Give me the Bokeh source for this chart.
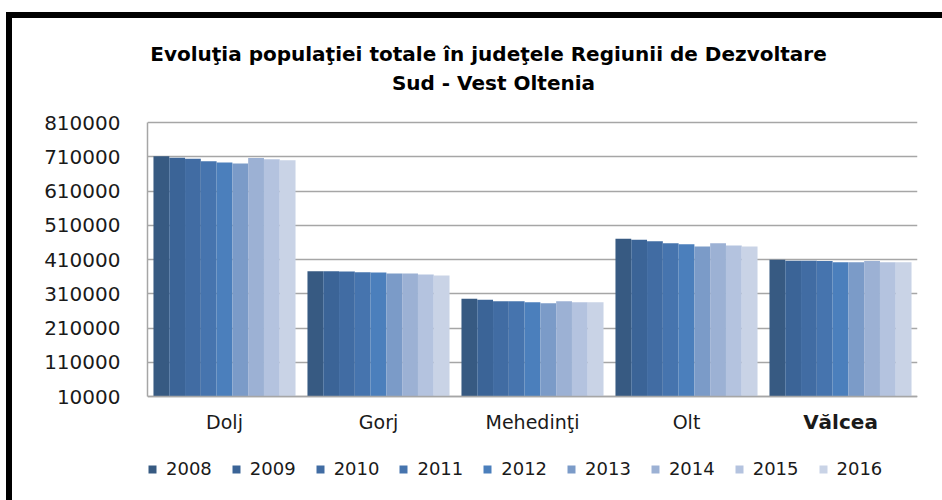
from bokeh.plotting import figure
from bokeh.models import (FactorRange, Range1d, FixedTicker, NumeralTickFormatter,
                          Legend, LegendItem, ColumnDataSource, Label, Span)
from bokeh.core.properties import value
from bokeh.transform import dodge
from bokeh.embed import file_html
from bokeh.resources import INLINE

# ---- data ----
counties = ["Dolj", "Gorj", "Mehedinţi", "Olt", "Vălcea"]
years = ["2008", "2009", "2010", "2011", "2012", "2013", "2014", "2015", "2016"]

pop_2008 = [711700, 375900, 295300, 470500, 409100]
pop_2009 = [707000, 375900, 292400, 467500, 406200]
pop_2010 = [704000, 375000, 288300, 463500, 406200]
pop_2011 = [697000, 373000, 288300, 457600, 405800]
pop_2012 = [693000, 372000, 285400, 454700, 402200]
pop_2013 = [690000, 369000, 282400, 448000, 402200]
pop_2014 = [706000, 369000, 288300, 457600, 405800]
pop_2015 = [703000, 366000, 285400, 451000, 402200]
pop_2016 = [700000, 363000, 285400, 448000, 402200]

y_ticks = [10000, 110000, 210000, 310000, 410000, 510000, 610000, 710000, 810000]

title_line1 = "Evoluţia populaţiei totale în judeţele Regiunii de Dezvoltare"
title_line2 = "Sud - Vest Oltenia"
bold_category = "Vălcea"

colors = ["#375a82", "#3b6497", "#416ca3", "#4674ae", "#4b7fbc",
          "#7b9bc8", "#9cb1d4", "#b4c3df", "#c9d3e6"]

series = [pop_2008, pop_2009, pop_2010, pop_2011, pop_2012,
          pop_2013, pop_2014, pop_2015, pop_2016]

data = {"county": counties}
for y, s in zip(years, series):
    data[y] = s
source = ColumnDataSource(data)

# ---- geometry (pixels) ----
W, H = 942, 500
FRAME_L, FRAME_R = 147, 917          # plot area left / right
AXIS_TOP, AXIS_BOTTOM = 122, 396     # where 810000 and 10000 sit
FRAME_T, FRAME_B = 20, 496           # frame extended to hold titles and legend
upp = (y_ticks[-1] - y_ticks[0]) / (AXIS_BOTTOM - AXIS_TOP)   # data units per px


def ypx(px):
    """data value at a page pixel row"""
    return y_ticks[0] + (AXIS_BOTTOM - px) * upp


def xpx(px):
    """synthetic categorical coordinate at a page pixel column"""
    return (px - FRAME_L) / ((FRAME_R - FRAME_L) / len(counties))


p = figure(x_range=FactorRange(factors=counties, range_padding=0),
           y_range=Range1d(ypx(FRAME_B), ypx(FRAME_T)),
           width=W, height=H,
           output_backend="svg", toolbar_location=None,
           min_border_left=FRAME_L, min_border_right=W - FRAME_R,
           min_border_top=FRAME_T, min_border_bottom=H - FRAME_B,
           styles={"box-shadow": "inset 6px 12px 0 0 #fff, inset 12px 18px 0 0 #000"})

p.outline_line_color = None
p.background_fill_color = "white"
p.border_fill_color = None

bar_w = 0.1025
renderers = []
for i, (y, c) in enumerate(zip(years, colors)):
    r = p.vbar(x=dodge("county", (i - 4) * bar_w, range=p.x_range), top=y,
               bottom=y_ticks[0], width=bar_w, source=source,
               fill_color=c, line_color=None)
    renderers.append(r)

# y axis (drawn only over the value span)
p.yaxis.ticker = FixedTicker(ticks=y_ticks)
p.yaxis.bounds = (y_ticks[0], y_ticks[-1])
p.yaxis.formatter = NumeralTickFormatter(format="0")
p.yaxis.major_label_text_font = "DejaVu Sans"
p.yaxis.major_label_text_font_size = "20px"
p.yaxis.major_label_text_color = "#1a1a1a"
p.yaxis.major_label_standoff = 27
p.yaxis.axis_line_color = "#a6a6a6"
p.yaxis.axis_line_width = 1.5
p.yaxis.major_tick_line_color = None
p.yaxis.minor_tick_line_color = None
p.yaxis.major_tick_out = 0

p.xaxis.visible = False
p.xgrid.grid_line_color = None
p.ygrid.ticker = FixedTicker(ticks=y_ticks)
p.ygrid.grid_line_color = "#a6a6a6"
p.ygrid.grid_line_width = 1.5

# category axis line at the base value
p.add_layout(Span(location=y_ticks[0], dimension="width",
                  line_color="#a6a6a6", line_width=1.5))

# category labels
regular = [c for c in counties if c != bold_category]
label_y = ypx(421)
p.text(x=regular, y=[label_y] * len(regular), text=regular,
       text_align="center", text_baseline="alphabetic",
       text_font=value("DejaVu Sans"), text_font_size=value("19px"),
       text_color="#1a1a1a")
p.text(x=[bold_category], y=[label_y], text=[bold_category],
       text_align="center", text_baseline="alphabetic",
       text_font=value("DejaVu Sans"), text_font_size=value("20px"),
       text_font_style=value("bold"), text_color="#1a1a1a")

# title (two lines)
p.add_layout(Label(x=xpx(488), y=ypx(53), text=title_line1,
                   text_align="center", text_baseline="alphabetic",
                   text_font="DejaVu Sans", text_font_style="bold",
                   text_font_size="20px", text_color="#000000"))
p.add_layout(Label(x=xpx(493), y=ypx(82), text=title_line2,
                   text_align="center", text_baseline="alphabetic",
                   text_font="DejaVu Sans", text_font_style="bold",
                   text_font_size="20px", text_color="#000000"))

legend = Legend(items=[LegendItem(label=y, renderers=[r]) for y, r in zip(years, renderers)],
                location=(0, FRAME_B - 479), orientation="horizontal",
                glyph_width=10, glyph_height=10, label_standoff=9, spacing=19,
                padding=0, border_line_color=None, background_fill_alpha=0,
                label_text_font="DejaVu Sans", label_text_font_size="18px",
                label_text_color="#1a1a1a")
p.add_layout(legend)

open("out.html", "w").write(file_html(p, INLINE))
